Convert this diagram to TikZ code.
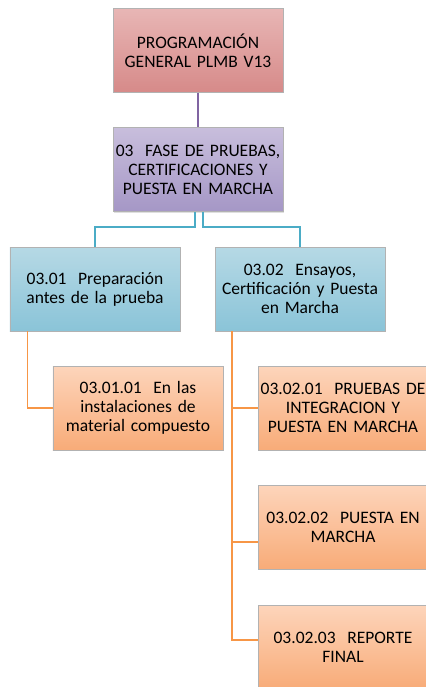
\documentclass[tikz,border=0pt]{standalone}
\usepackage{fontspec}
\setmainfont{Carlito}
\usepackage{tikz}
\usetikzlibrary{shadows}

\definecolor{redtop}{HTML}{E8B6B5}
\definecolor{redbot}{HTML}{D68A89}
\definecolor{purtop}{HTML}{C8BEDC}
\definecolor{purbot}{HTML}{A597C6}
\definecolor{blutop}{HTML}{B6D9E5}
\definecolor{blubot}{HTML}{8AC4D8}
\definecolor{orgtop}{HTML}{FDD5BB}
\definecolor{orgbot}{HTML}{F8AB78}
\definecolor{purline}{HTML}{8064A2}
\definecolor{bluline}{HTML}{4BACC6}
\definecolor{orgline}{HTML}{F79646}

\begin{document}
\begin{tikzpicture}[x=1bp, y=-1bp,
  box/.style={draw=black!30, line width=0.6pt, minimum width=170bp, minimum height=84bp,
    text width=168bp, align=center, inner sep=0pt,
    font=\fontsize{17.5bp}{19bp}\selectfont,
    drop shadow={opacity=0.25, shadow xshift=1bp, shadow yshift=-1bp}},
  redbox/.style={box, top color=redtop, bottom color=redbot},
  purbox/.style={box, top color=purtop, bottom color=purbot},
  blubox/.style={box, top color=blutop, bottom color=blubot},
  orgbox/.style={box, top color=orgtop, bottom color=orgbot},
  link/.style={line width=1.6pt}]
\useasboundingbox (0,0) rectangle (425,687);
% niveles superiores
\node[redbox] (plmb) at (198,50.5) {PROGRAMACIÓN\\GENERAL PLMB V13};
\node[purbox] (fase) at (198,169.5) {03\ \ FASE DE PRUEBAS,\\CERTIFICACIONES Y\\PUESTA EN MARCHA};
\node[blubox] (prep) at (95,289) {03.01\ \ Preparación\\antes de la prueba};
\node[blubox] (ensayos) at (300,289) {03.02\ \ Ensayos,\\Certificación y Puesta\\en Marcha};
% actividades
\node[orgbox] (instal) at (138,408) {03.01.01\ \ En las\\instalaciones de\\material compuesto};
\node[orgbox] (integ) at (343,408) {03.02.01\ \ PRUEBAS DE\\INTEGRACION Y\\PUESTA EN MARCHA};
\node[orgbox] (puesta) at (343,527) {03.02.02\ \ PUESTA EN\\MARCHA};
\node[orgbox] (reporte) at (343,647) {03.02.03\ \ REPORTE\\FINAL};
% conectores
\draw[link, purline] (plmb) -- (fase);
\draw[link, bluline] ([xshift=-3bp]fase.south) -- ++(0,15) -| (prep.north);
\draw[link, bluline] ([xshift=5bp]fase.south) -- ++(0,15) -| (ensayos.north);
\draw[link, orgline] ([xshift=18bp]prep.south west) |- (instal.west);
\draw[link, orgline] ([xshift=17bp]ensayos.south west) |- (integ.west);
\draw[link, orgline] ([xshift=17bp]ensayos.south west) |- ([yshift=-15bp]puesta.west);
\draw[link, orgline] ([xshift=17bp]ensayos.south west) |- ([yshift=7bp]reporte.west);
\end{tikzpicture}
\end{document}
